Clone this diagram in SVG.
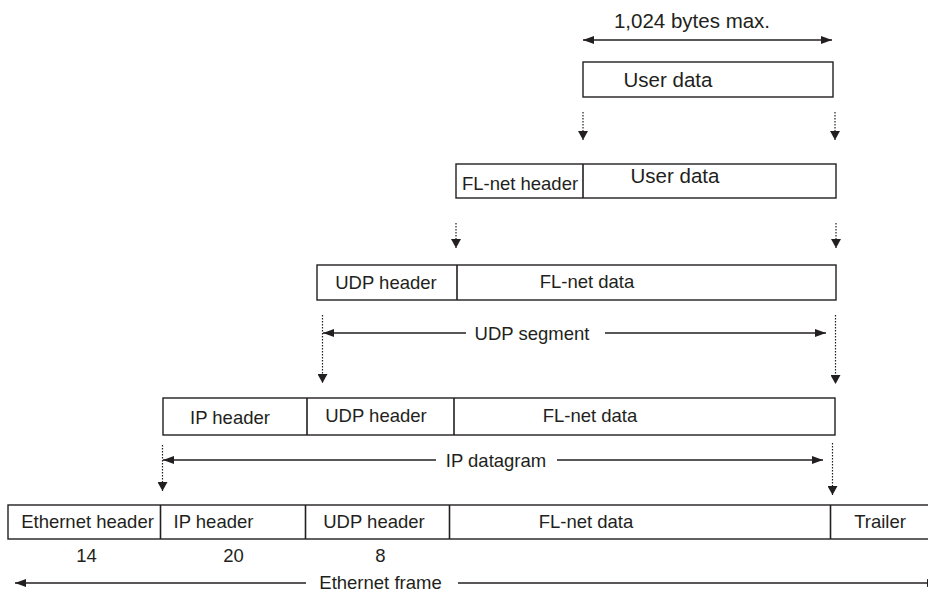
<svg xmlns="http://www.w3.org/2000/svg" width="928" height="592" viewBox="0 0 928 592">
<style>
text{font-family:"Liberation Sans",Arial,sans-serif;font-size:18.5px;fill:#231f20;text-anchor:middle}
.big{font-size:20.5px}
.box{fill:#fff;stroke:#231f20;stroke-width:1.4}
.div{stroke:#231f20;stroke-width:1.6}
.ln{stroke:#231f20;stroke-width:1.5;fill:none}
.dot{stroke:#231f20;stroke-width:1.2;stroke-dasharray:1.5 1.5;fill:none}
</style>
<defs>
<marker id="ah" markerUnits="userSpaceOnUse" markerWidth="11" markerHeight="8" viewBox="0 0 11 8" refX="11" refY="4" orient="auto-start-reverse">
<path d="M0,0 L11,4 L0,8 z" fill="#231f20"/>
</marker>
<marker id="ad" markerUnits="userSpaceOnUse" markerWidth="9" markerHeight="10" viewBox="0 0 9 10" refX="9" refY="5" orient="auto">
<path d="M0,0 L9,5 L0,10 z" fill="#231f20"/>
</marker>
</defs>
<rect width="928" height="592" fill="#fff"/>

<g id="size-label">
<text class="big" x="692" y="28">1,024 bytes max.</text>
</g>

<g id="user-data">
<rect class="box" x="583" y="62" width="250" height="35"/>
<text class="big" x="668" y="87">User data</text>
</g>

<g id="flnet-frame">
<rect class="box" x="456" y="164" width="380" height="34"/>
<line class="div" x1="583" y1="164" x2="583" y2="198"/>
<text x="520" y="190">FL-net header</text>
<text class="big" x="675" y="183">User data</text>
</g>

<g id="udp-segment">
<rect class="box" x="317" y="265" width="519" height="35"/>
<line class="div" x1="457" y1="265" x2="457" y2="300"/>
<text x="386" y="289">UDP header</text>
<text x="587" y="288">FL-net data</text>
<text x="532" y="340">UDP segment</text>
</g>

<g id="ip-datagram">
<rect class="box" x="163" y="398" width="672" height="37"/>
<line class="div" x1="307" y1="398" x2="307" y2="435"/>
<line class="div" x1="454" y1="398" x2="454" y2="435"/>
<text x="230" y="424">IP header</text>
<text x="376" y="422">UDP header</text>
<text x="590" y="422">FL-net data</text>
<text x="496" y="467">IP datagram</text>
</g>

<g id="ethernet-frame">
<rect class="box" x="8" y="505" width="930" height="34"/>
<line class="div" x1="160.5" y1="505" x2="160.5" y2="539"/>
<line class="div" x1="305.5" y1="505" x2="305.5" y2="539"/>
<line class="div" x1="449.5" y1="505" x2="449.5" y2="539"/>
<line class="div" x1="830.5" y1="505" x2="830.5" y2="539"/>
<text x="87.5" y="528">Ethernet header</text>
<text x="213.5" y="528">IP header</text>
<text x="374" y="528">UDP header</text>
<text x="586" y="528">FL-net data</text>
<text x="880" y="528">Trailer</text>
<text x="86.5" y="562">14</text>
<text x="233.5" y="562">20</text>
<text x="380.5" y="562">8</text>
<text x="380.5" y="589">Ethernet frame</text>
</g>

<g id="connectors">
<line class="ln" x1="583" y1="40" x2="832" y2="40" marker-start="url(#ah)" marker-end="url(#ah)"/>

<line class="dot" x1="583" y1="112" x2="583" y2="140" marker-end="url(#ad)"/>
<line class="dot" x1="835" y1="112" x2="835" y2="140" marker-end="url(#ad)"/>

<line class="dot" x1="456" y1="223" x2="456" y2="248" marker-end="url(#ad)"/>
<line class="dot" x1="836" y1="223" x2="836" y2="248" marker-end="url(#ad)"/>

<line class="dot" x1="322.5" y1="315" x2="322.5" y2="383" marker-end="url(#ad)"/>
<line class="dot" x1="835.5" y1="315" x2="835.5" y2="384" marker-end="url(#ad)"/>
<line class="ln" x1="466" y1="333" x2="323" y2="333" marker-end="url(#ah)"/>
<line class="ln" x1="605" y1="333" x2="826" y2="333" marker-end="url(#ah)"/>

<line class="dot" x1="162.5" y1="445" x2="162.5" y2="491" marker-end="url(#ad)"/>
<line class="dot" x1="832.5" y1="443" x2="832.5" y2="495" marker-end="url(#ad)"/>
<line class="ln" x1="436" y1="460" x2="163" y2="460" marker-end="url(#ah)"/>
<line class="ln" x1="557" y1="460" x2="823" y2="460" marker-end="url(#ah)"/>

<line class="ln" x1="306" y1="583" x2="15" y2="583" marker-end="url(#ah)"/>
<line class="ln" x1="458" y1="583" x2="938" y2="583" marker-end="url(#ah)"/>
</g>
</svg>
